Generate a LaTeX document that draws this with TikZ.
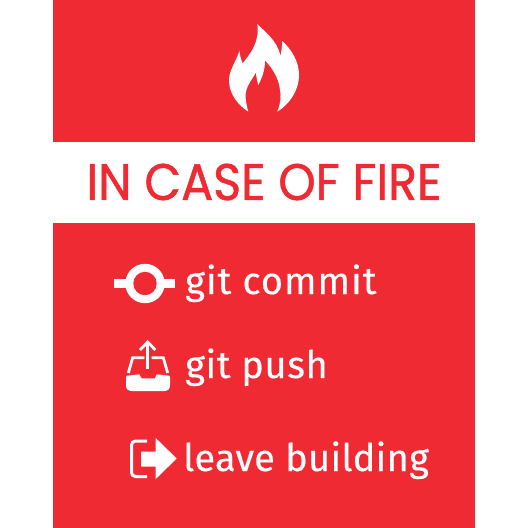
\documentclass[tikz,border=0pt]{standalone}
\usepackage{fontspec}
\setmainfont{Fira Sans}
\newfontfamily\titlefont[FakeBold=1]{Poppins}
\newfontfamily\cmdA[LetterSpace=2.6,FakeBold=0.3]{Fira Sans}
\newfontfamily\cmdB[LetterSpace=1.6,FakeBold=0.3]{Fira Sans}
\newfontfamily\cmdC[LetterSpace=0.7,FakeBold=0.3]{Fira Sans}
\definecolor{firered}{HTML}{F02A33}
\tikzset{
  cmd/.style={anchor=base west,inner sep=0pt,text=white},
  icon/.style={fill=white,draw=none},
  iconline/.style={draw=white,line width=3pt},
  trayline/.style={draw=white,line width=2.8pt,line join=miter},
}
\begin{document}
\begin{tikzpicture}[x=1pt,y=-1pt]
\useasboundingbox (0,0) rectangle (528,528);
\fill[white] (0,0) rectangle (528,528);
\fill[firered] (53,0) rectangle (475,528);
\fill[white] (53,142) rectangle (475,223);
% flame
\fill[icon] (257.3,24) .. controls (265,32) and (277,40) .. (280.5,56)
  .. controls (281.5,51) and (282,46) .. (282.3,41)
  .. controls (292,50) and (299,62) .. (299,75)
  .. controls (299,92) and (288,105) .. (277.3,111.7)
  .. controls (281,102) and (281,96) .. (280,90)
  .. controls (279,78) and (271,66) .. (265,60.7)
  .. controls (265,70) and (262,78) .. (258.3,85)
  .. controls (257,80) and (256,76) .. (256,72.3)
  .. controls (252,80) and (246,86) .. (245.5,95)
  .. controls (245.5,101) and (247,107) .. (248.3,111.7)
  .. controls (238,105) and (229,94) .. (229,80)
  .. controls (229,70) and (237,60) .. (239.3,50.7)
  .. controls (240,55) and (241,60) .. (242.7,63.3)
  .. controls (250,54) and (260,42) .. (257.3,24) -- cycle;
% title
\node[inner sep=0pt,text=firered,font=\titlefont\fontsize{47.6}{47.6}\selectfont] (title) at (264,182) {\scalebox{1}[1.08]{IN CASE OF FIRE}};
% commit icon
\fill[icon] (114,279) rectangle (175,288);
\fill[icon] (145,283.5) circle (19.7);
\fill[firered] (145,283.5) circle (11.7);
\node[cmd,font=\cmdA\fontsize{38}{38}\selectfont] (commit) at (185,294) {git commit};
% push icon
\fill[icon] (126,377) -- (127,375.7) -- (139.3,374.3) -- (141.7,378.3) -- (155,378.3) -- (156.7,374.3) -- (169.3,375.7) -- (170,377) -- (170,385)
  .. controls (170,389) and (168,391) .. (164,391) -- (132,391)
  .. controls (128,391) and (126,389) .. (126,385) -- cycle;
\draw[trayline] (144.3,357.7) -- (132.7,357.7) -- (128.3,373);
\draw[trayline] (151.7,357.7) -- (163.3,357.7) -- (167.7,373);
\draw[trayline] (147.7,368.5) -- (147.7,342);
\draw[trayline] (140,350) -- (147.7,342) -- (155.4,350);
\node[cmd,font=\cmdB\fontsize{38}{38}\selectfont] (push) at (185,378) {git push};
% exit icon
\draw[iconline,rounded corners=4pt] (147,441) -- (131.5,441) -- (131.5,476.5) -- (147,476.5);
\fill[icon] (141,451.7) -- (155.7,451.7) -- (155.7,438) -- (176.7,458.5) -- (155.7,479) -- (155.7,466.7) -- (141,466.7) -- cycle;
\node[cmd,font=\cmdC\fontsize{38}{38}\selectfont] (leave) at (183,471) {leave building};
\end{tikzpicture}
\end{document}
